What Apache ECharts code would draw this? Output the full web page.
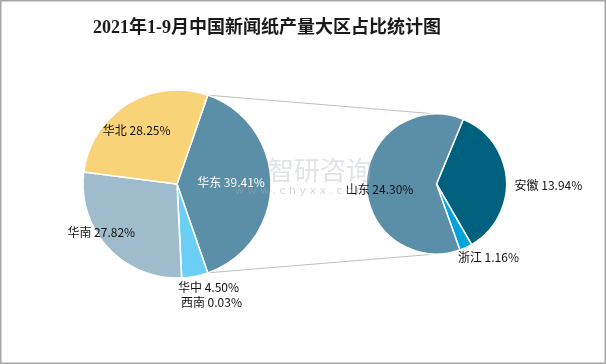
<!DOCTYPE html>
<html><head><meta charset="utf-8">
<script src="https://cdn.jsdelivr.net/npm/echarts@6/dist/echarts.min.js"></script>
<style>html,body{margin:0;padding:0;background:#fff}#c{width:606px;height:364px}</style>
</head><body><div id="c"></div>
<script>
// ---- data ----
const titleText = '2021年1-9月中国新闻纸产量大区占比统计图';
const regionNames = ['华东', '华中', '西南', '华南', '华北'];
const regionValues = [39.41, 4.50, 0.03, 27.82, 28.25];
const provinceNames = ['安徽', '浙江', '山东'];
const provinceValues = [13.94, 1.16, 24.30];

// ---- styles ----
const regionColors = ['#5B8FA7', '#6BCFF5', '#6BCFF5', '#9EBCCB', '#F8D378'];
const provinceColors = ['#00617F', '#00A4DA', '#5B8FA7'];
const regionLabelColors = ['#ffffff', '#111', '#111', '#111', '#111'];
const regionLabelShift = [[4, -2], [22, 54], [32, 68], [-39, 15], [-14, -11]];
const provinceLabelShift = [[74, 4], [36, 39], [-19, 6]];

const W = 606, H = 364;
const L = { cx: 177, cy: 184, r: 94 };
const R = { cx: 436.5, cy: 184, r: 70 };

const total = regionValues.reduce((a, b) => a + b, 0);
const halfSpan = regionValues[0] / total * 180; // 华东 centered at 3 o'clock
const rad = halfSpan * Math.PI / 180;
const topPt = [L.cx + L.r * Math.cos(rad), L.cy - L.r * Math.sin(rad)];
const botPt = [L.cx + L.r * Math.cos(rad), L.cy + L.r * Math.sin(rad)];

const fmt = p => p.name + ' ' + p.value.toFixed(2) + '%';
const labelFont = { fontFamily: 'Noto Sans CJK SC', fontSize: 12 };

const chart = echarts.init(document.getElementById('c'), null, { renderer: 'canvas' });
chart.setOption({
  animation: false,
  backgroundColor: '#fff',
  title: {
    text: titleText, left: 88, top: 14,
    textStyle: { fontFamily: 'Liberation Serif, Noto Sans CJK SC', fontSize: 18, fontWeight: 'bold', color: '#1a1a1a' }
  },
  graphic: [
    { type: 'rect', shape: { x: 0.75, y: 0.75, width: W - 1.5, height: H - 1.5 }, style: { fill: 'none', stroke: '#A6A6A6', lineWidth: 1.5 }, silent: true },
    { type: 'line', shape: { x1: topPt[0], y1: topPt[1], x2: R.cx, y2: R.cy - R.r }, style: { stroke: '#BFBFBF', lineWidth: 1 }, silent: true },
    { type: 'line', shape: { x1: botPt[0], y1: botPt[1], x2: R.cx, y2: R.cy + R.r }, style: { stroke: '#BFBFBF', lineWidth: 1 }, silent: true },
    { type: 'text', left: 268, top: 157, z: 100, silent: true,
      style: { text: '智研咨询', fontFamily: 'Noto Sans CJK SC', fontSize: 26, fill: 'rgba(180,185,195,0.4)' } },
    { type: 'text', left: 235, top: 186, z: 100, silent: true,
      style: { text: 'w w w . c h y x x . c o m', fontFamily: 'DejaVu Sans', fontSize: 11, fill: 'rgba(165,170,180,0.45)' } }
  ],
  series: [
    {
      type: 'pie', center: [L.cx, L.cy], radius: [0, L.r], startAngle: halfSpan, clockwise: true,
      avoidLabelOverlap: false, silent: true,
      itemStyle: { borderColor: '#fff', borderWidth: 1.5 },
      label: Object.assign({ show: true, position: 'inside', formatter: fmt }, labelFont),
      labelLine: { show: false },
      labelLayout: p => ({ dx: regionLabelShift[p.dataIndex][0], dy: regionLabelShift[p.dataIndex][1] }),
      emphasis: { disabled: true },
      data: regionNames.map((n, i) => ({
        name: n, value: regionValues[i],
        itemStyle: { color: regionColors[i] },
        label: { color: regionLabelColors[i] }
      }))
    },
    {
      type: 'pie', center: [R.cx, R.cy], radius: [0, R.r], startAngle: 67.5, clockwise: true,
      avoidLabelOverlap: false, silent: true,
      itemStyle: { borderColor: '#fff', borderWidth: 1.5 },
      label: Object.assign({ show: true, position: 'inside', formatter: fmt, color: '#111' }, labelFont),
      labelLine: { show: false },
      labelLayout: p => ({ dx: provinceLabelShift[p.dataIndex][0], dy: provinceLabelShift[p.dataIndex][1] }),
      emphasis: { disabled: true },
      data: provinceNames.map((n, i) => ({
        name: n, value: provinceValues[i],
        itemStyle: { color: provinceColors[i] }
      }))
    }
  ]
});
</script></body></html>
